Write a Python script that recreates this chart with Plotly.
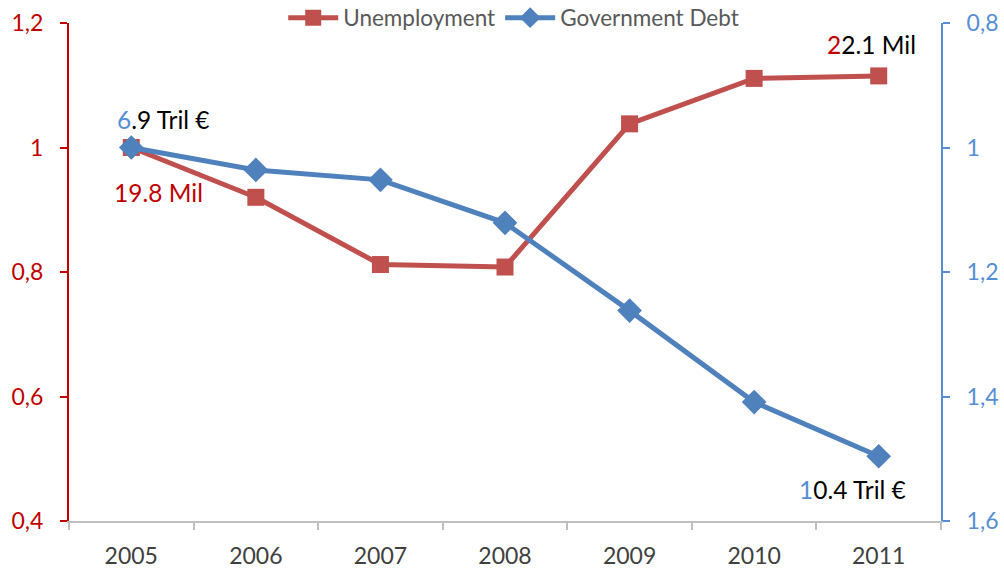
import plotly.graph_objects as go

years = ["2005", "2006", "2007", "2008", "2009", "2010", "2011"]
unemployment = [1.0, 0.920, 0.812, 0.808, 1.038, 1.111, 1.115]
gov_debt = [1.0, 1.036, 1.052, 1.121, 1.262, 1.409, 1.496]

left_ticks = [0.4, 0.6, 0.8, 1.0, 1.2]
right_ticks = [0.8, 1.0, 1.2, 1.4, 1.6]

RED = "#C0504D"
BLUE = "#4F81BD"
AXIS_RED = "#C00000"
AXIS_BLUE = "#558ED5"
FONT = "Lato, sans-serif"
LABEL_SIZE = 24.5

fig = go.Figure()
fig.add_trace(go.Scatter(
    x=years, y=unemployment, name="Unemployment", yaxis="y",
    mode="lines+markers",
    line=dict(color=RED, width=5),
    marker=dict(symbol="square", size=17, color=RED),
))
fig.add_trace(go.Scatter(
    x=years, y=gov_debt, name="Government Debt", yaxis="y2",
    mode="lines+markers",
    line=dict(color=BLUE, width=5),
    marker=dict(symbol="diamond", size=19, color=BLUE),
))

# value labels at the first and last year
fig.add_annotation(x=0, y=gov_debt[0], xref="x", yref="y2",
                   text='<span style="color:#558ED5">6</span>.9 Tril €',
                   xshift=32, yshift=28, showarrow=False,
                   font=dict(family=FONT, size=LABEL_SIZE, color="black"))
fig.add_annotation(x=0, y=unemployment[0], xref="x", yref="y",
                   text="19.8 Mil", xshift=27, yshift=-45, showarrow=False,
                   font=dict(family=FONT, size=LABEL_SIZE, color=AXIS_RED))
fig.add_annotation(x=6, y=unemployment[-1], xref="x", yref="y",
                   text='<span style="color:#C00000">2</span>2.1 Mil',
                   xshift=-7, yshift=31, showarrow=False,
                   font=dict(family=FONT, size=LABEL_SIZE, color="black"))
fig.add_annotation(x=6, y=gov_debt[-1], xref="x", yref="y2",
                   text='<span style="color:#558ED5">1</span>0.4 Tril €',
                   xshift=-26, yshift=-33, showarrow=False,
                   font=dict(family=FONT, size=LABEL_SIZE, color="black"))

fig.update_layout(
    width=1004, height=576,
    margin=dict(l=69, r=63, t=23, b=55, autoexpand=False),
    paper_bgcolor="white", plot_bgcolor="white",
    separators=", ",
    font=dict(family=FONT, size=22, color="#404040"),
    showlegend=True,
    legend=dict(orientation="h", x=0.51, xanchor="center", y=1.01, yanchor="middle",
                font=dict(size=22.5, color="#595959"), bgcolor="rgba(0,0,0,0)",
                itemwidth=50),
    xaxis=dict(
        type="category", range=[-0.5, 6.5], showgrid=False,
        showline=True, linecolor="#BFBFBF", linewidth=2,
        ticks="outside", tickson="boundaries", ticklen=7, tickcolor="#BFBFBF", tickwidth=2,
        ticklabelstandoff=13,
        tickfont=dict(size=23, color="#404040"),
    ),
    yaxis=dict(
        range=[0.4, 1.2], tickvals=left_ticks, showgrid=False, zeroline=False,
        showline=True, linecolor=AXIS_RED, linewidth=2,
        ticks="outside", ticklen=7, tickcolor=AXIS_RED, tickwidth=2,
        ticklabelstandoff=12,
        tickfont=dict(size=23, color=AXIS_RED),
    ),
    yaxis2=dict(
        overlaying="y", side="right", range=[1.6, 0.8], tickvals=right_ticks,
        showgrid=False, zeroline=False,
        showline=True, linecolor=AXIS_BLUE, linewidth=2,
        ticks="outside", ticklen=7, tickcolor=AXIS_BLUE, tickwidth=2,
        ticklabelstandoff=12,
        tickfont=dict(size=23, color=AXIS_BLUE),
    ),
)

fig.write_html("out.html")
